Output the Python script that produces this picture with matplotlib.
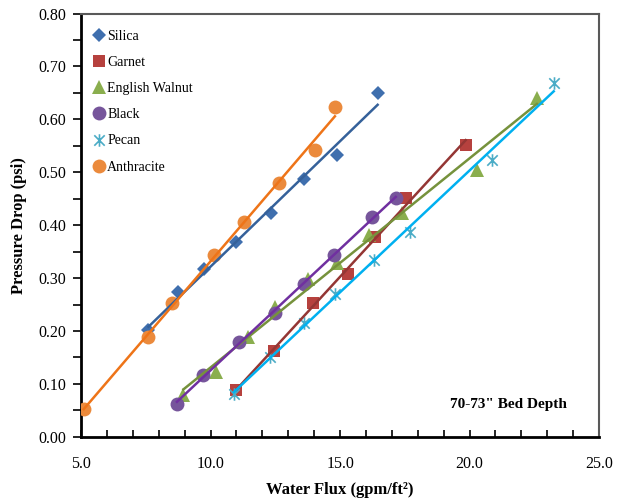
import numpy as np
import matplotlib
matplotlib.use("Agg")
import matplotlib.pyplot as plt
from matplotlib.path import Path
from matplotlib.ticker import MultipleLocator, FormatStrFormatter

plt.rcParams['font.family'] = ['Liberation Serif', 'DejaVu Serif']

# Silica
silica_x = [7.6, 8.75, 9.75, 11.0, 12.35, 13.6, 14.9, 16.45]
silica_y = [0.202, 0.274, 0.318, 0.369, 0.423, 0.488, 0.533, 0.650]
# Garnet
garnet_x = [11.0, 12.45, 13.95, 15.3, 16.35, 17.55, 19.85]
garnet_y = [0.089, 0.163, 0.253, 0.308, 0.378, 0.452, 0.552]
# English Walnut
walnut_x = [8.95, 10.2, 11.45, 12.5, 13.75, 14.9, 16.1, 17.4, 20.3, 22.6]
walnut_y = [0.079, 0.123, 0.189, 0.246, 0.298, 0.329, 0.382, 0.423, 0.505, 0.641]
# Black
black_x = [8.7, 9.7, 11.1, 12.5, 13.6, 14.75, 16.25, 17.15]
black_y = [0.063, 0.117, 0.180, 0.234, 0.289, 0.344, 0.416, 0.452]
# Pecan
pecan_x = [10.9, 12.3, 13.6, 14.8, 16.3, 17.7, 20.85, 23.25]
pecan_y = [0.081, 0.151, 0.215, 0.270, 0.335, 0.388, 0.524, 0.669]
# Anthracite
anth_x = [5.1, 7.6, 8.5, 10.15, 11.3, 12.65, 14.05, 14.8]
anth_y = [0.053, 0.189, 0.253, 0.344, 0.406, 0.480, 0.543, 0.624]

# excel style star: an x with a vertical bar through it
star = Path([(-1, -1), (1, 1), (-1, 1), (1, -1), (0, -1.2), (0, 1.2)],
            [Path.MOVETO, Path.LINETO, Path.MOVETO, Path.LINETO,
             Path.MOVETO, Path.LINETO])

series = [
    ("Silica", silica_x, silica_y, "D", "#3F6FAE", "#35619A", 7.5),
    ("Garnet", garnet_x, garnet_y, "s", "#B6413E", "#943634", 9),
    ("English Walnut", walnut_x, walnut_y, "^", "#8AAE4E", "#76923C", 9.5),
    ("Black", black_x, black_y, "o", "#76559B", "#7030A0", 10),
    ("Pecan", pecan_x, pecan_y, star, "#4BACC6", "#00B0F0", 9),
    ("Anthracite", anth_x, anth_y, "o", "#EB8A3C", "#EE7418", 10),
]

fig = plt.figure(figsize=(6.24, 5.01), dpi=100)
ax = fig.add_axes([0.130, 0.128, 0.830, 0.845])

for name, xs, ys, mk, mc, lc, ms in series:
    xs = np.array(xs)
    ys = np.array(ys)
    if mk is star:
        ax.plot(xs, ys, linestyle="none", marker=star, ms=ms, mew=1.2,
                color=mc, fillstyle="none", label=name, zorder=3)
    else:
        ax.plot(xs, ys, linestyle="none", marker=mk, ms=ms, mew=0,
                color=mc, label=name, zorder=3)
    k, b = np.polyfit(xs, ys, 1)
    xf = np.array([xs.min(), xs.max()])
    ax.plot(xf, k * xf + b, color=lc, lw=1.8, zorder=4)

ax.set_xlim(5, 25)
ax.set_ylim(0, 0.8)
ax.xaxis.set_major_locator(MultipleLocator(5))
ax.xaxis.set_minor_locator(MultipleLocator(1))
ax.yaxis.set_major_locator(MultipleLocator(0.1))
ax.yaxis.set_minor_locator(MultipleLocator(0.05))
ax.xaxis.set_major_formatter(FormatStrFormatter("%.1f"))
ax.yaxis.set_major_formatter(FormatStrFormatter("%.2f"))

ax.tick_params(axis="x", which="both", direction="in", length=5, width=1.2,
               labelsize=11.5, pad=14)
ax.tick_params(axis="y", which="both", direction="out", length=6, width=1.2,
               labelsize=11.5, pad=5)
for s in ["left", "bottom"]:
    ax.spines[s].set_color("black")
    ax.spines[s].set_linewidth(2)
for s in ["top", "right"]:
    ax.spines[s].set_color("#595959")
    ax.spines[s].set_linewidth(1.5)

ax.set_xlabel("Water Flux (gpm/ft\u00b2)", fontsize=12, fontweight="bold", labelpad=7)
ax.set_ylabel("Pressure Drop (psi)", fontsize=12, fontweight="bold", labelpad=8)

ax.text(0.937, 0.077, '70-73" Bed Depth', transform=ax.transAxes, ha="right",
        va="center", fontsize=11, fontweight="bold")

leg = ax.legend(loc="upper left", bbox_to_anchor=(0.005, 0.985), frameon=False,
                fontsize=10, handlelength=0.8, handletextpad=0.2,
                labelspacing=0.95, borderaxespad=0.3)

fig.savefig("out.png", dpi=100)
